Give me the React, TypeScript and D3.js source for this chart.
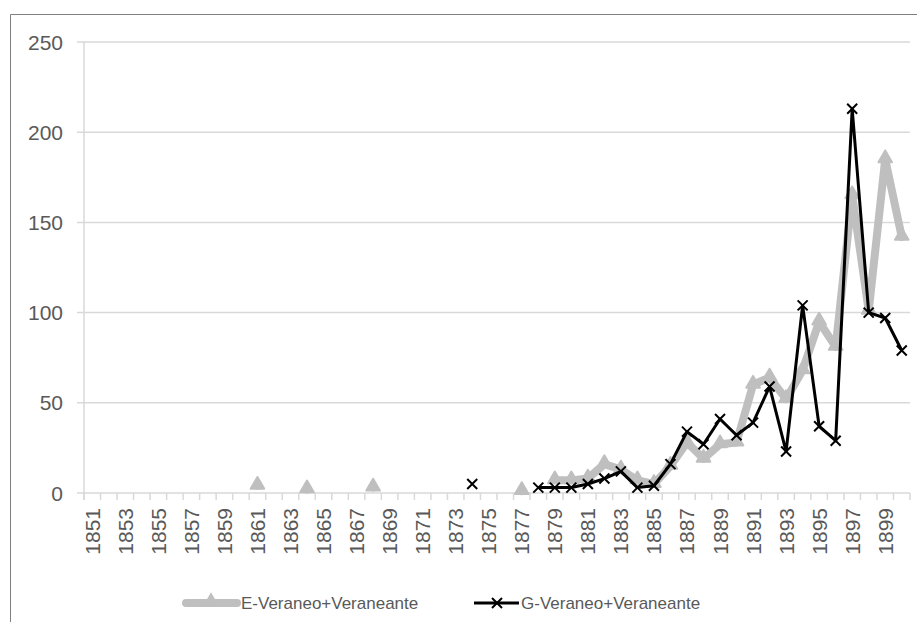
import React from "react";
import * as d3 from "d3";

const years: number[] = [
  1851, 1852, 1853, 1854, 1855, 1856, 1857, 1858, 1859, 1860,
  1861, 1862, 1863, 1864, 1865, 1866, 1867, 1868, 1869, 1870,
  1871, 1872, 1873, 1874, 1875, 1876, 1877, 1878, 1879, 1880,
  1881, 1882, 1883, 1884, 1885, 1886, 1887, 1888, 1889, 1890,
  1891, 1892, 1893, 1894, 1895, 1896, 1897, 1898, 1899, 1900,
];

const seriesE: (number | null)[] = [
  null, null, null, null, null, null, null, null, null, null,
  4, null, null, 2, null, null, null, 3, null, null,
  null, null, null, null, null, null, 1, null, 7, 7,
  8, 16, 13, 7, 5, 15, 28, 19, 27, 28,
  60, 64, 52, 68, 95, 81, 165, 101, 185, 142,
];

const seriesG: (number | null)[] = [
  null, null, null, null, null, null, null, null, null, null,
  null, null, null, null, null, null, null, null, null, null,
  null, null, null, 5, null, null, null, 3, 3, 3,
  5, 8, 12, 3, 4, 16, 34, 27, 41, 32,
  39, 59, 23, 104, 37, 29, 213, 100, 97, 79,
];

const yTicks: number[] = [0, 50, 100, 150, 200, 250];
const labelE = "E-Veraneo+Veraneante";
const labelG = "G-Veraneo+Veraneante";

const W = 917;
const H = 622;
const FONT = "'Liberation Sans', Arial, sans-serif";
const TEXT = "#595959";
const GRID = "#d9d9d9";
const GRAY = "#bfbfbf";

export default function App() {
  const x = d3.scaleBand<number>().domain(years).range([84, 910]).padding(0);
  const y = d3.scaleLinear().domain([0, 250]).range([493, 42]);
  const cx = (yr: number) => (x(yr) as number) + x.bandwidth() / 2;

  const lineGen = d3
    .line<number | null>()
    .defined((d) => d !== null)
    .x((_, i) => cx(years[i]))
    .y((d) => y(d as number));

  const tri = d3.symbol().type(d3.symbolTriangle).size(80)();
  const cross = (px: number, py: number, s: number) =>
    `M${px - s},${py - s}L${px + s},${py + s}M${px - s},${py + s}L${px + s},${py - s}`;

  const boundaries = d3.range(years.length + 1).map((i) => 84 + i * x.bandwidth());

  return (
    <svg
      width={W}
      height={H}
      style={{ position: "absolute", left: 0, top: 0, background: "#fff" }}
      fontFamily={FONT}
    >
      <rect x={0} y={0} width={W} height={H} fill="#fff" />
      <path d={`M10.5,${H}V14.5H${W}`} fill="none" stroke="#7f7f7f" strokeWidth={1} />

      {/* gridlines */}
      {yTicks.map((t) => (
        <line key={t} x1={77} x2={910} y1={y(t)} y2={y(t)} stroke={GRID} strokeWidth={1.5} />
      ))}
      <line x1={84} x2={84} y1={42} y2={500} stroke={GRID} strokeWidth={1.5} />
      {boundaries.map((bx, i) => (
        <line key={i} x1={bx} x2={bx} y1={493} y2={500} stroke={GRID} strokeWidth={1.5} />
      ))}

      {/* y labels */}
      {yTicks.map((t) => (
        <text key={t} x={63} y={y(t)} textAnchor="end" dominantBaseline="central" fontSize={21} fill={TEXT}>
          {t}
        </text>
      ))}

      {/* x labels */}
      {years.map((yr, i) =>
        i % 2 === 0 ? (
          <text
            key={yr}
            transform={`translate(${cx(yr)},508) rotate(-90)`}
            textAnchor="end"
            dominantBaseline="central"
            fontSize={21}
            fill={TEXT}
          >
            {yr}
          </text>
        ) : null
      )}

      {/* series E */}
      <path d={lineGen(seriesE) || ""} fill="none" stroke={GRAY} strokeWidth={8} strokeLinejoin="round" strokeLinecap="round" />
      {seriesE.map((v, i) =>
        v === null ? null : (
          <path
            key={i}
            d={tri || ""}
            transform={`translate(${cx(years[i])},${y(v) - 1})`}
            fill={GRAY}
            stroke={GRAY}
            strokeWidth={2}
            strokeLinejoin="round"
          />
        )
      )}

      {/* series G */}
      <path d={lineGen(seriesG) || ""} fill="none" stroke="#000" strokeWidth={3} strokeLinejoin="round" />
      {seriesG.map((v, i) =>
        v === null ? null : (
          <path key={i} d={cross(cx(years[i]), y(v), 5)} stroke="#000" strokeWidth={2} fill="none" />
        )
      )}

      {/* legend */}
      <line x1={186} x2={237} y1={603} y2={603} stroke={GRAY} strokeWidth={8} strokeLinecap="round" />
      <path d={tri || ""} transform="translate(211,602)" fill={GRAY} stroke={GRAY} strokeWidth={2} />
      <text x={241} y={603} dominantBaseline="central" fontSize={17} fill={TEXT}>
        {labelE}
      </text>
      <line x1={474} x2={519} y1={603} y2={603} stroke="#000" strokeWidth={3} />
      <path d={cross(497, 603, 5)} stroke="#000" strokeWidth={2} fill="none" />
      <text x={521} y={603} dominantBaseline="central" fontSize={17} fill={TEXT}>
        {labelG}
      </text>
    </svg>
  );
}
